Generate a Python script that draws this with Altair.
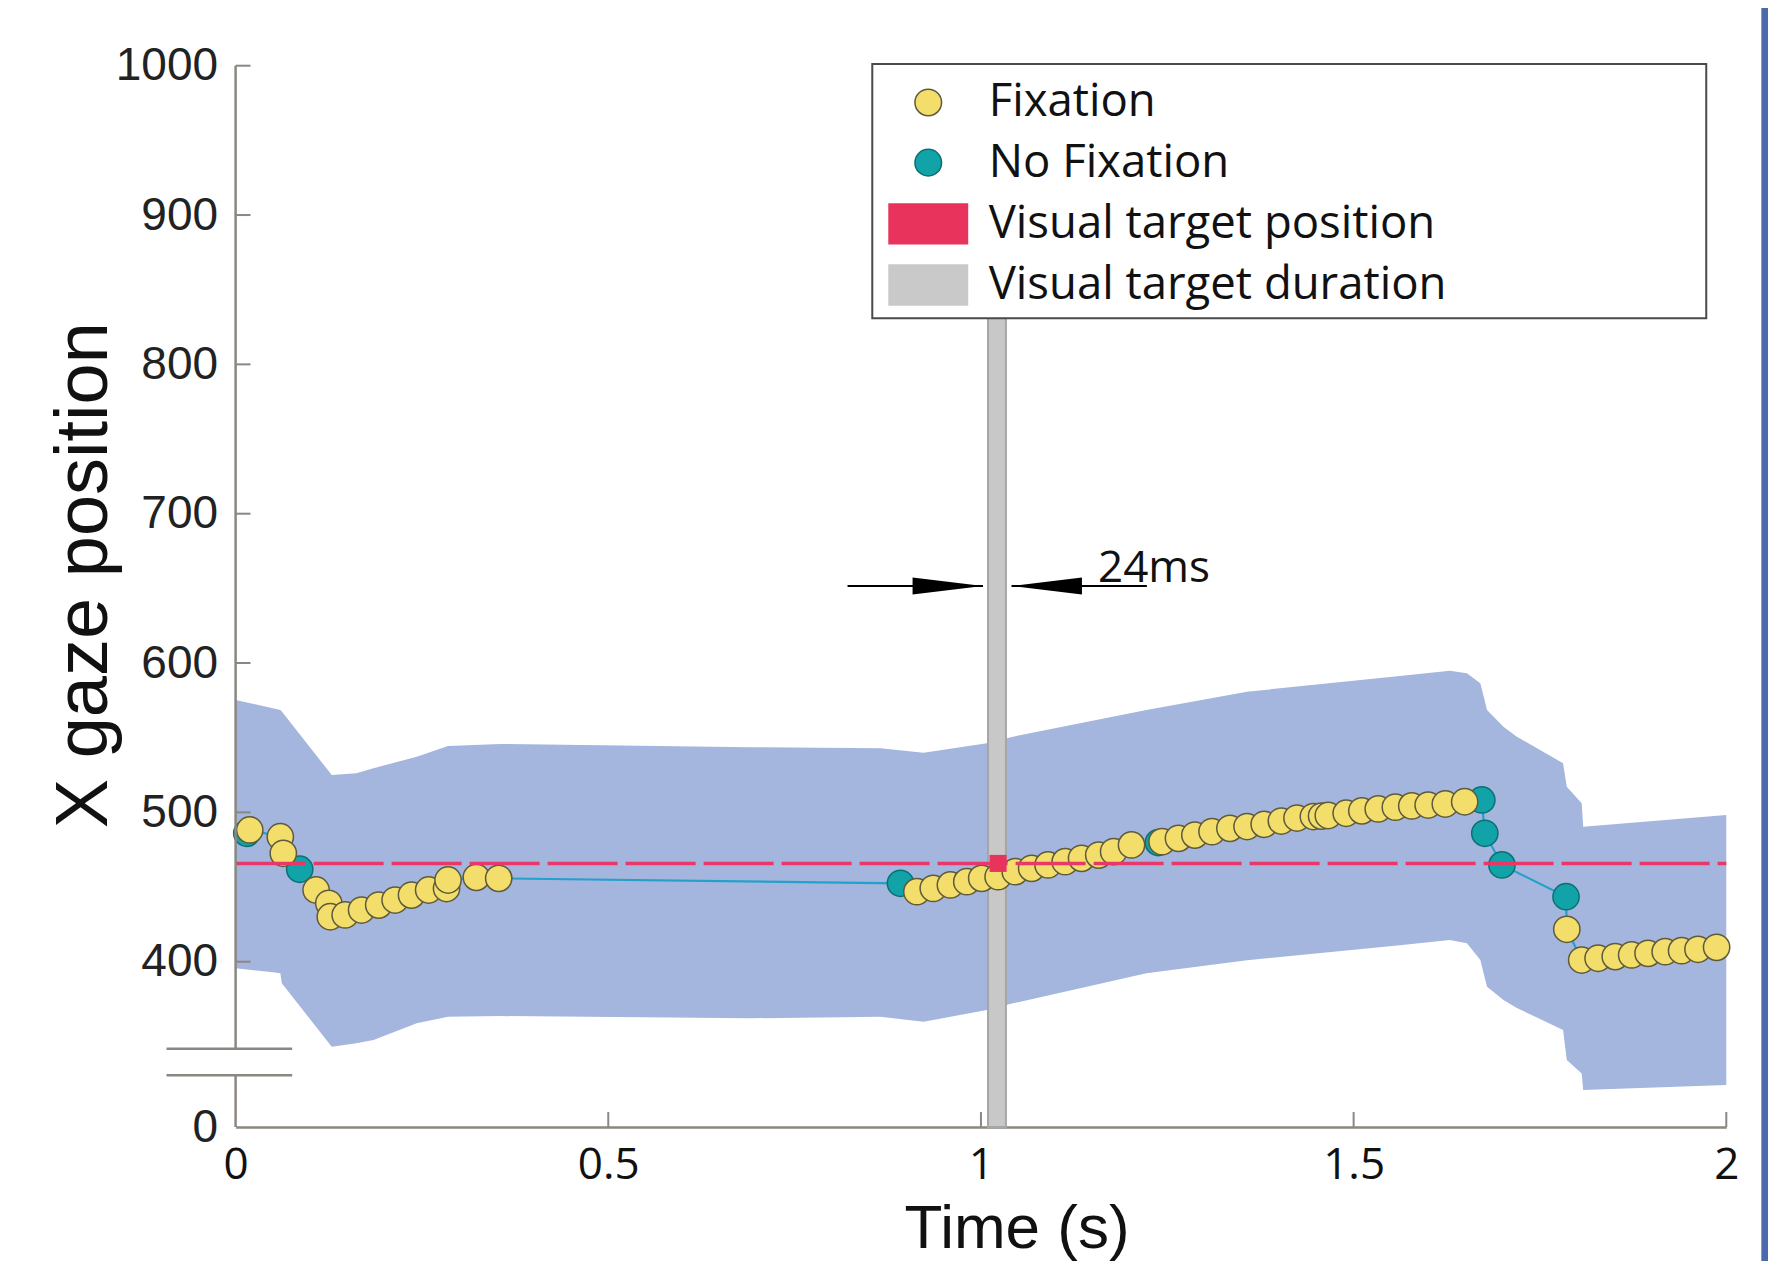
import altair as alt
import pandas as pd

# ---------------- data ----------------
# Fixation samples (time in s, x gaze position)
FIX_T = [0.019, 0.060, 0.064, 0.108, 0.125, 0.127, 0.147, 0.169, 0.192, 0.214, 0.236, 0.259, 0.283, 0.285, 0.323, 0.353,
         0.914, 0.936, 0.959, 0.981, 1.001, 1.023, 1.046, 1.068, 1.090, 1.113, 1.135, 1.158, 1.178, 1.202,
         1.243, 1.265, 1.287, 1.310, 1.334, 1.357, 1.380, 1.403, 1.424, 1.446, 1.457, 1.466, 1.490, 1.511, 1.533,
         1.556, 1.578, 1.600, 1.623, 1.649,
         1.786, 1.806, 1.828, 1.851, 1.873, 1.895, 1.918, 1.940, 1.962, 1.987]
FIX_V = [488.2, 483.7, 472.6, 448.0, 439.1, 430.1, 431.3, 434.6, 437.9, 441.3, 444.6, 448.0, 449.0, 454.7, 456.5, 455.8,
         446.9, 449.1, 451.4, 453.6, 455.8, 456.9, 460.3, 462.5, 464.8, 467.0, 469.2, 471.4, 473.7, 478.2,
         480.4, 482.6, 484.8, 487.1, 489.3, 490.5, 492.0, 494.2, 496.2, 497.2, 497.5, 497.9, 499.4, 501.0, 502.3,
         503.5, 504.3, 504.9, 505.6, 507.1,
         421.7, 401.1, 402.3, 403.4, 404.5, 405.6, 406.7, 407.4, 408.3, 409.6]
# No-fixation samples
NOFIX_T = [0.015, 0.086, 0.892, 1.238, 1.672, 1.676, 1.699, 1.785]
NOFIX_V = [486.0, 461.9, 452.5, 479.8, 508.3, 486.0, 464.8, 443.5]

# Shaded band (upper / lower edge)
BAND_T = [0.000, 0.050, 0.060, 0.062, 0.129, 0.162, 0.185, 0.243, 0.285, 0.355, 0.690, 0.865, 0.923, 1.008,
          1.043, 1.222, 1.357, 1.562, 1.629, 1.652, 1.670, 1.679, 1.701, 1.719, 1.781, 1.786, 1.806, 1.808, 2.000]
BAND_UP = [575.3, 569.7, 568.6, 567.5, 525.0, 526.2, 529.5, 537.3, 544.4, 545.8, 543.6, 542.9, 540.0, 546.2,
           550.7, 568.6, 580.8, 591.3, 594.9, 593.1, 586.4, 568.6, 557.4, 550.7, 532.9, 517.2, 506.1, 490.4, 498.2]
BAND_LO = [395.6, 393.0, 392.2, 385.5, 343.1, 345.3, 347.6, 358.7, 363.2, 363.6, 362.1, 363.2, 359.8, 367.6,
           372.1, 392.2, 401.0, 411.0, 414.5, 412.3, 401.1, 383.3, 374.3, 369.0, 354.3, 334.2, 325.2, 314.1, 317.4]

# Visual target
TARGET_POS = 465.8
TARGET_ON = 1.0095
TARGET_OFF = 1.0335
TARGET_MARK_T = 1.023

# Axes (broken y axis: the "0" label sits at Y_FLOOR)
X_TICKS = [0, 0.5, 1, 1.5, 2]
Y_TICKS = [400, 500, 600, 700, 800, 900, 1000]
Y_FLOOR = 289.3
Y_BREAKS = [341.7, 324.0]

# Annotation "24ms"
ARROW_V = 651.6
ARROW_LEFT_START = 0.821
ARROW_LEFT_TIP = 1.0027
ARROW_RIGHT_TIP = 1.041
ARROW_RIGHT_END = 1.2226
ARROW_HEAD_LEN = 0.0945
ANNOT_TEXT = "24ms"
ANNOT_T = 1.157
ANNOT_V = 654.5

# Legend frame (data units)
LEGEND_T = [0.8542, 1.9731]
LEGEND_V = [830.9, 1001.1]

SERIES = ["Fixation", "No Fixation", "Visual target position", "Visual target duration"]
FILLS = ["#f3de6c", "#11a3a7", "#e8335c", "#c9c9c9"]
STROKES = ["#5e5a3a", "#0c6f73", "#e8335c", "#c9c9c9"]
RECT_SHAPE = "M-2.95,-1.5H2.95V1.5H-2.95Z"
SHAPES = ["circle", "circle", RECT_SHAPE, RECT_SHAPE]

BAND_COLOR = "#a4b6de"
LINE_COLOR = "#25a0cc"
RED = "#e8386a"
AXIS_COLOR = "#8b8782"
BAR_FILL = "#c8c8c8"
BAR_STROKE = "#a6a6a6"
STRIPE_COLOR = "#4a6aae"

# ---------------- scales & axes ----------------
SX = alt.Scale(domain=[0, 2], nice=False, zero=False)
SY = alt.Scale(domain=[Y_FLOOR, 1000], nice=False, zero=False)

X_AXIS = alt.Axis(values=X_TICKS, format="~g", title="Time (s)", labelFont="Open Sans", labelFontSize=44,
                  labelColor="#111111", labelPadding=16.5, labelFlush=False, labelOverlap=False, ticks=False,
                  tickSize=0, domain=True, domainColor=AXIS_COLOR, domainWidth=2.5, grid=False,
                  titleFont="Liberation Sans", titleFontSize=62, titleFontWeight="normal",
                  titleColor="#111111", titleX=781, titleY=120.5, titleAlign="center", titleBaseline="alphabetic")
Y_AXIS = alt.Axis(values=[Y_FLOOR] + Y_TICKS, format="d", labelExpr="datum.value < 300 ? '0' : datum.label",
                  title="X gaze position", labelFont="Liberation Sans", labelFontSize=46, labelColor="#222222",
                  labelPadding=18, labelFlush=False, labelOverlap=False, ticks=False, tickSize=0, domain=False,
                  grid=False, titleFont="Liberation Sans", titleFontSize=74, titleFontWeight="normal",
                  titleColor="#111111", titleX=-129, titleY=509, titleAngle=270, titleAlign="center",
                  titleBaseline="alphabetic")


def ex(f):
    return alt.X(f, scale=SX, axis=X_AXIS)


def ey(f):
    return alt.Y(f, scale=SY, axis=Y_AXIS)


# ---------------- layers ----------------
stripe = alt.Chart(pd.DataFrame({"a": [2.047], "b": [2.07], "c": [150], "d": [1100]})).mark_rect(
    color=STRIPE_COLOR).encode(x=ex("a:Q"), x2="b:Q", y=ey("c:Q"), y2="d:Q")

band_df = pd.DataFrame({"t": BAND_T, "up": BAND_UP, "lo": BAND_LO})
band = alt.Chart(band_df).mark_area(color=BAND_COLOR, opacity=1, interpolate="linear").encode(
    x=ex("t:Q"), y=ey("up:Q"), y2="lo:Q")

bar = alt.Chart(pd.DataFrame({"a": [TARGET_ON], "b": [TARGET_OFF], "c": [Y_FLOOR], "d": [1000]})).mark_rect(
    fill=BAR_FILL, stroke=BAR_STROKE, strokeWidth=2).encode(x=ex("a:Q"), x2="b:Q", y=ey("c:Q"), y2="d:Q")

all_t = FIX_T + NOFIX_T
all_v = FIX_V + NOFIX_V
line_df = pd.DataFrame({"t": all_t, "v": all_v}).sort_values("t")
line = alt.Chart(line_df).mark_line(color=LINE_COLOR, strokeWidth=2.2).encode(
    x=ex("t:Q"), y=ey("v:Q"), order="t:Q")

pts_df = pd.concat([
    pd.DataFrame({"t": NOFIX_T, "v": NOFIX_V, "series": "No Fixation"}),
    pd.DataFrame({"t": FIX_T, "v": FIX_V, "series": "Fixation"}),
], ignore_index=True)
pts_df["idx"] = range(len(pts_df))

LEG = alt.Legend(title=None, orient="none", legendX=636.7, legendY=0.0, padding=14,
                 labelFont="Open Sans", labelFontSize=45.5,
                 labelColor="#111111", labelLimit=2000, labelOffset=37.7, symbolOffset=19.2, rowPadding=13.2,
                 symbolSize=707, symbolStrokeWidth=1.5, symbolOpacity=1)
points = alt.Chart(pts_df).mark_point(filled=True, size=690, strokeWidth=1.5, opacity=1).encode(
    x=ex("t:Q"), y=ey("v:Q"),
    color=alt.Color("series:N", scale=alt.Scale(domain=SERIES, range=FILLS), legend=LEG),
    stroke=alt.Stroke("series:N", scale=alt.Scale(domain=SERIES, range=STROKES), legend=LEG),
    shape=alt.Shape("series:N", scale=alt.Scale(domain=SERIES, range=SHAPES), legend=LEG),
    order="idx:Q",
)

target_line = alt.Chart(pd.DataFrame({"a": [0], "b": [2], "v": [TARGET_POS]})).mark_rule(
    color=RED, strokeWidth=3.5, strokeDash=[70, 8]).encode(x=ex("a:Q"), x2="b:Q", y=ey("v:Q"))

target_mark = alt.Chart(pd.DataFrame({"t": [TARGET_MARK_T], "v": [TARGET_POS]})).mark_square(
    size=290, color="#e8335c", opacity=1).encode(x=ex("t:Q"), y=ey("v:Q"))

yaxis_df = pd.DataFrame({"a": [0, 0], "lo": [Y_BREAKS[0], Y_FLOOR], "hi": [1000, Y_BREAKS[1]]})
yaxis_line = alt.Chart(yaxis_df).mark_rule(color=AXIS_COLOR, strokeWidth=2.5).encode(
    x=ex("a:Q"), y=ey("lo:Q"), y2="hi:Q")

ytick_df = pd.DataFrame({"a": 0.0, "b": 0.02, "v": Y_TICKS})
yticks = alt.Chart(ytick_df).mark_rule(color=AXIS_COLOR, strokeWidth=2).encode(
    x=ex("a:Q"), x2="b:Q", y=ey("v:Q"))

xtick_df = pd.DataFrame({"t": X_TICKS[1:], "lo": Y_FLOOR, "hi": Y_FLOOR + 10})
xticks = alt.Chart(xtick_df).mark_rule(color=AXIS_COLOR, strokeWidth=2).encode(
    x=ex("t:Q"), y=ey("lo:Q"), y2="hi:Q")

break_df = pd.DataFrame({"a": -0.0927, "b": 0.0759, "v": Y_BREAKS})
breaks = alt.Chart(break_df).mark_rule(color=AXIS_COLOR, strokeWidth=2.5).encode(
    x=ex("a:Q"), x2="b:Q", y=ey("v:Q"))

arrow_df = pd.DataFrame({"a": [ARROW_LEFT_START, ARROW_RIGHT_TIP], "b": [ARROW_LEFT_TIP, ARROW_RIGHT_END],
                         "v": ARROW_V})
arrow_lines = alt.Chart(arrow_df).mark_rule(color="black", strokeWidth=2).encode(
    x=ex("a:Q"), x2="b:Q", y=ey("v:Q"))
head_r = alt.Chart(pd.DataFrame({"t": [ARROW_LEFT_TIP - ARROW_HEAD_LEN / 2], "v": [ARROW_V]})).mark_point(
    shape="M-1,-0.24L1,0L-1,0.24Z", size=4956, filled=True, color="black", opacity=1, strokeWidth=0).encode(
    x=ex("t:Q"), y=ey("v:Q"))
head_l = alt.Chart(pd.DataFrame({"t": [ARROW_RIGHT_TIP + ARROW_HEAD_LEN / 2], "v": [ARROW_V]})).mark_point(
    shape="M1,-0.24L-1,0L1,0.24Z", size=4956, filled=True, color="black", opacity=1, strokeWidth=0).encode(
    x=ex("t:Q"), y=ey("v:Q"))
annot = alt.Chart(pd.DataFrame({"t": [ANNOT_T], "v": [ANNOT_V], "s": [ANNOT_TEXT]})).mark_text(
    align="left", baseline="alphabetic", font="Open Sans", fontSize=44, color="#111111").encode(
    x=ex("t:Q"), y=ey("v:Q"), text="s:N")

legend_box = alt.Chart(pd.DataFrame({"a": [LEGEND_T[0]], "b": [LEGEND_T[1]], "c": [LEGEND_V[0]],
                                     "d": [LEGEND_V[1]]})).mark_rect(
    fill="white", stroke="#4a4a4a", strokeWidth=2).encode(x=ex("a:Q"), x2="b:Q", y=ey("c:Q"), y2="d:Q")

chart = alt.layer(
    stripe, band, bar, line, points, target_line, target_mark, yaxis_line, yticks, xticks, breaks,
    arrow_lines, head_r, head_l, annot, legend_box,
).properties(
    width=1490.7, height=1061.3,
    padding={"left": 227.6, "top": 57.7, "right": 41.7, "bottom": 134.0},
    autosize=alt.AutoSizeParams(type="none"),
    background="white",
).configure_view(stroke=None)

chart.save("out.html", embed_options={"renderer": "svg", "actions": False})
